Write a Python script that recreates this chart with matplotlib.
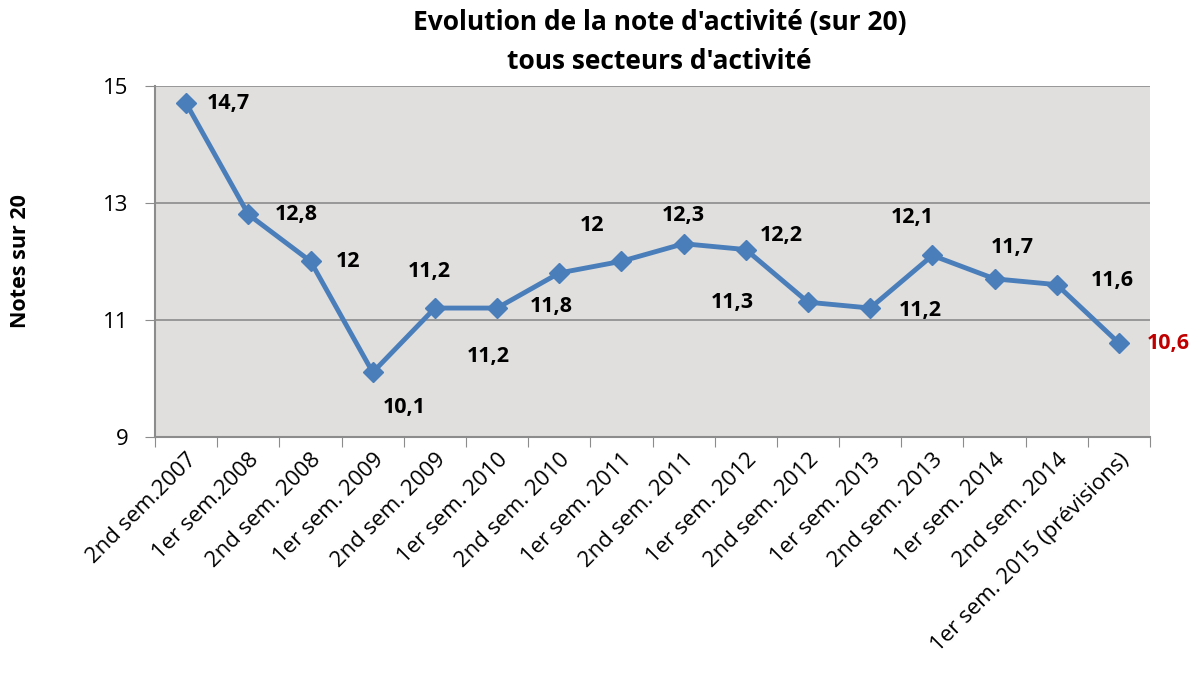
import matplotlib
matplotlib.use("Agg")
import matplotlib.pyplot as plt

plt.rcParams["font.family"] = ["Open Sans", "DejaVu Sans"]

periods = ["2nd sem.2007", "1er sem.2008", "2nd sem. 2008", "1er sem. 2009", "2nd sem. 2009",
           "1er sem. 2010", "2nd sem. 2010", "1er sem. 2011", "2nd sem. 2011", "1er sem. 2012",
           "2nd sem. 2012", "1er sem. 2013", "2nd sem. 2013", "1er sem. 2014", "2nd sem. 2014",
           "1er sem. 2015 (prévisions)"]
notes = [14.7, 12.8, 12, 10.1, 11.2, 11.2, 11.8, 12, 12.3, 12.2, 11.3, 11.2, 12.1, 11.7, 11.6, 10.6]
yticks = [9, 11, 13, 15]

# label offsets in pixels (dx, dy with y up)
offsets = [(42, 0), (48, 0), (37, 0), (32, -35), (-6, 37), (-9, -48), (-8, -34), (-29, 36),
           (0, 28), (35, 14), (-76, 0), (50, -2), (-20, 38), (18, 31), (56, 4), (49, 0)]

fig = plt.figure(figsize=(11.93, 6.76), dpi=100)
ax = fig.add_axes([0.130, 0.354, 0.834, 0.519])
ax.set_facecolor("#e0dfdd")

x = list(range(len(notes)))
ax.plot(x, notes, color="#4a7ebb", lw=3.5, marker="D", ms=10, zorder=3)

for i, v in enumerate(notes):
    lab = f"{v:g}".replace(".", ",")
    col = "#c00000" if i == len(notes) - 1 else "black"
    ax.annotate(lab, (i, v), xytext=offsets[i], textcoords="offset pixels",
                ha="center", va="center", fontsize=15.5, fontweight="bold", color=col)

ax.set_xlim(-0.5, len(notes) - 0.5)
ax.set_ylim(9, 15)
ax.set_yticks(yticks)
ax.set_yticklabels([str(t) for t in yticks], fontsize=16)
ax.yaxis.grid(True, color="#8c8c8c", lw=1.2)
ax.set_axisbelow(True)

ax.set_xticks([i - 0.5 for i in range(len(notes) + 1)], minor=False)
ax.set_xticklabels([])
ax.set_xticks(x, minor=True)
ax.set_xticklabels(periods, minor=True, rotation=45, ha="right", rotation_mode="anchor", fontsize=16)
ax.tick_params(axis="x", which="minor", length=0, pad=9)
ax.tick_params(axis="x", which="major", length=7, color="#8c8c8c")
ax.tick_params(axis="y", length=7, color="#8c8c8c", pad=12)

for s in ["left", "bottom"]:
    ax.spines[s].set_color("#8c8c8c")
    ax.spines[s].set_linewidth(1.5)
ax.spines["right"].set_visible(False)
ax.spines["top"].set_visible(False)

ax.set_ylabel("Notes sur 20", fontsize=15.5, fontweight="bold", labelpad=52)
fig.text(0.553, 0.938, "Evolution de la note d'activité (sur 20)\ntous secteurs d'activité",
         ha="center", va="center", fontsize=19, fontweight="bold", linespacing=1.55)

fig.savefig("out.png", dpi=100)
